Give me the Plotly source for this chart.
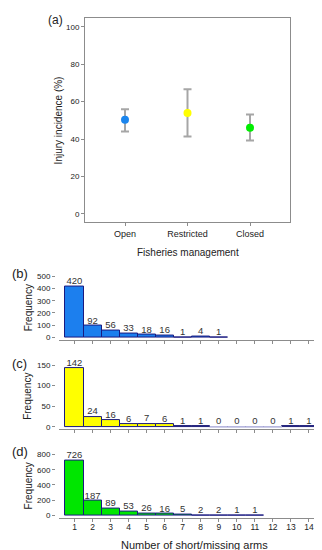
import plotly.graph_objects as go

W, H = 322, 550

# ---- data ----
mgmt = ["Open", "Restricted", "Closed"]
incidence = [50.3, 53.9, 46.1]
ci_upper = [55.9, 66.6, 53.2]
ci_lower = [44.1, 41.3, 39.2]
point_colors = ["#1C86EE", "#FFFF00", "#00EE00"]

arms = list(range(1, 15))
freq_open = [420, 92, 56, 33, 18, 16, 1, 4, 1]
freq_restricted = [142, 24, 16, 6, 7, 6, 1, 1, 0, 0, 0, 0, 1, 1]
freq_closed = [726, 187, 89, 53, 26, 16, 5, 2, 2, 1, 1]

ticks_b = [0, 100, 200, 300, 400, 500]
ticks_c = [0, 50, 100, 150]
ticks_d = [0, 200, 400, 600, 800]
ticks_a = [0, 20, 40, 60, 80, 100]

FONT = "Liberation Sans, Arial, sans-serif"
GRAY = "#8c8c8c"
TXT = "#222222"
EDGE = "#1a1a80"


def px_x(a, b):
    return [a / W, b / W]


def px_y(top, bottom):
    return [(H - bottom) / H, (H - top) / H]


def label(text, x, y, size, angle=0):
    fig.add_annotation(text=text, x=x / W, y=(H - y) / H, xref="paper", yref="paper",
                       xanchor="center", yanchor="middle", showarrow=False,
                       textangle=angle, font=dict(size=size, color=TXT, family=FONT))


fig = go.Figure()

# ---- panel (a) ----
err_plus = [u - m for u, m in zip(ci_upper, incidence)]
err_minus = [m - l for m, l in zip(incidence, ci_lower)]
fig.add_trace(go.Scatter(
    x=mgmt, y=incidence, mode="markers",
    marker=dict(color=point_colors, size=8, line=dict(width=0)),
    error_y=dict(type="data", array=err_plus, arrayminus=err_minus,
                 color="#a6a6a6", thickness=2, width=4),
    xaxis="x", yaxis="y", showlegend=False, hoverinfo="skip"))

fig.update_layout(
    xaxis=dict(domain=px_x(77, 282), anchor="y", range=[-0.64, 2.64],
               showline=True, linecolor=GRAY, linewidth=1, mirror=True,
               ticks="outside", ticklen=3, tickcolor=GRAY,
               tickfont=dict(size=9, color=TXT, family=FONT),
               showgrid=False, zeroline=False, fixedrange=True),
    yaxis=dict(domain=px_y(10, 215), anchor="x", range=[-4.3, 104.8],
               tickvals=ticks_a, showline=True, linecolor=GRAY, linewidth=1,
               mirror=True, ticks="outside", ticklen=3, tickcolor=GRAY,
               tickfont=dict(size=8, color=TXT, family=FONT),
               showgrid=False, zeroline=False, fixedrange=True),
)

# ---- bar panels ----
panels = [
    ("2", freq_open, "#1C7FEE", ticks_b, (266, 334), [-24.6, 532], False, "(b)", 267),
    ("3", freq_restricted, "#FFFF00", ticks_c, (355, 423), [-4.8, 159.7], False, "(c)", 357),
    ("4", freq_closed, "#00E600", ticks_d, (445, 513), [-39, 852], True, "(d)", 446),
]

for n, vals, col, tks, (top, bot), yr, showlab, lab, laby in panels:
    xs = arms[:len(vals)]
    fig.add_trace(go.Bar(
        x=xs, y=vals, width=1.0, marker=dict(color=col, line=dict(color=EDGE, width=1)),
        xaxis="x" + n, yaxis="y" + n, showlegend=False, hoverinfo="skip"))
    # zero-height bins drawn as thin base lines
    zx, zy = [], []
    for xv, v in zip(xs, vals):
        if v == 0:
            zx += [xv - 0.5, xv + 0.5, None]
            zy += [v, v, None]
    if zx:
        fig.add_trace(go.Scatter(
            x=zx, y=zy, mode="lines", line=dict(color="#b8b8e0", width=1.5),
            xaxis="x" + n, yaxis="y" + n, showlegend=False, hoverinfo="skip"))
    fig.add_trace(go.Scatter(
        x=xs, y=vals, mode="text", text=[str(v) for v in vals],
        textposition="top center", cliponaxis=False,
        textfont=dict(size=9.5, color="#333333", family=FONT),
        xaxis="x" + n, yaxis="y" + n, showlegend=False, hoverinfo="skip"))

    xa = dict(domain=px_x(51, 315), anchor="y" + n, range=[0.141, 14.78],
              tickvals=arms, showticklabels=showlab, showline=True,
              linecolor=GRAY, linewidth=1, ticks="outside", ticklen=3,
              tickcolor=GRAY, tickfont=dict(size=8.5, color=TXT, family=FONT),
              ticklabelstandoff=-2,
              showgrid=False, zeroline=False, fixedrange=True)
    ya = dict(domain=px_y(top, bot), anchor="free", position=47 / W,
              range=yr, tickvals=tks, showline=False, ticks="outside",
              ticklen=3, tickcolor=GRAY,
              tickfont=dict(size=8, color=TXT, family=FONT),
              showgrid=False, zeroline=False, fixedrange=True)
    fig.layout["xaxis" + n] = xa
    fig.layout["yaxis" + n] = ya
    fig.add_annotation(text=lab, x=2 / W, y=(H - laby) / H, xref="paper", yref="paper",
                       xanchor="left", yanchor="middle", showarrow=False,
                       font=dict(size=13, color=TXT, family=FONT))
    label("Frequency", 20, (top + bot) / 2 + 2, 10, -90)

fig.add_annotation(text="(a)", x=38 / W, y=(H - 12) / H, xref="paper", yref="paper",
                   xanchor="left", yanchor="middle", showarrow=False,
                   font=dict(size=12, color=TXT, family=FONT))
label("Injury incidence (%)", 50, 113, 10, -90)
label("Fisheries management", 180, 246, 10)
label("Number of short/missing arms", 186, 540, 11)

fig.update_layout(
    width=W, height=H, margin=dict(l=0, r=0, t=0, b=0),
    paper_bgcolor="white", plot_bgcolor="white",
    bargap=0, font=dict(family=FONT, color=TXT),
)

fig.write_html("out.html", config={"displayModeBar": False})
